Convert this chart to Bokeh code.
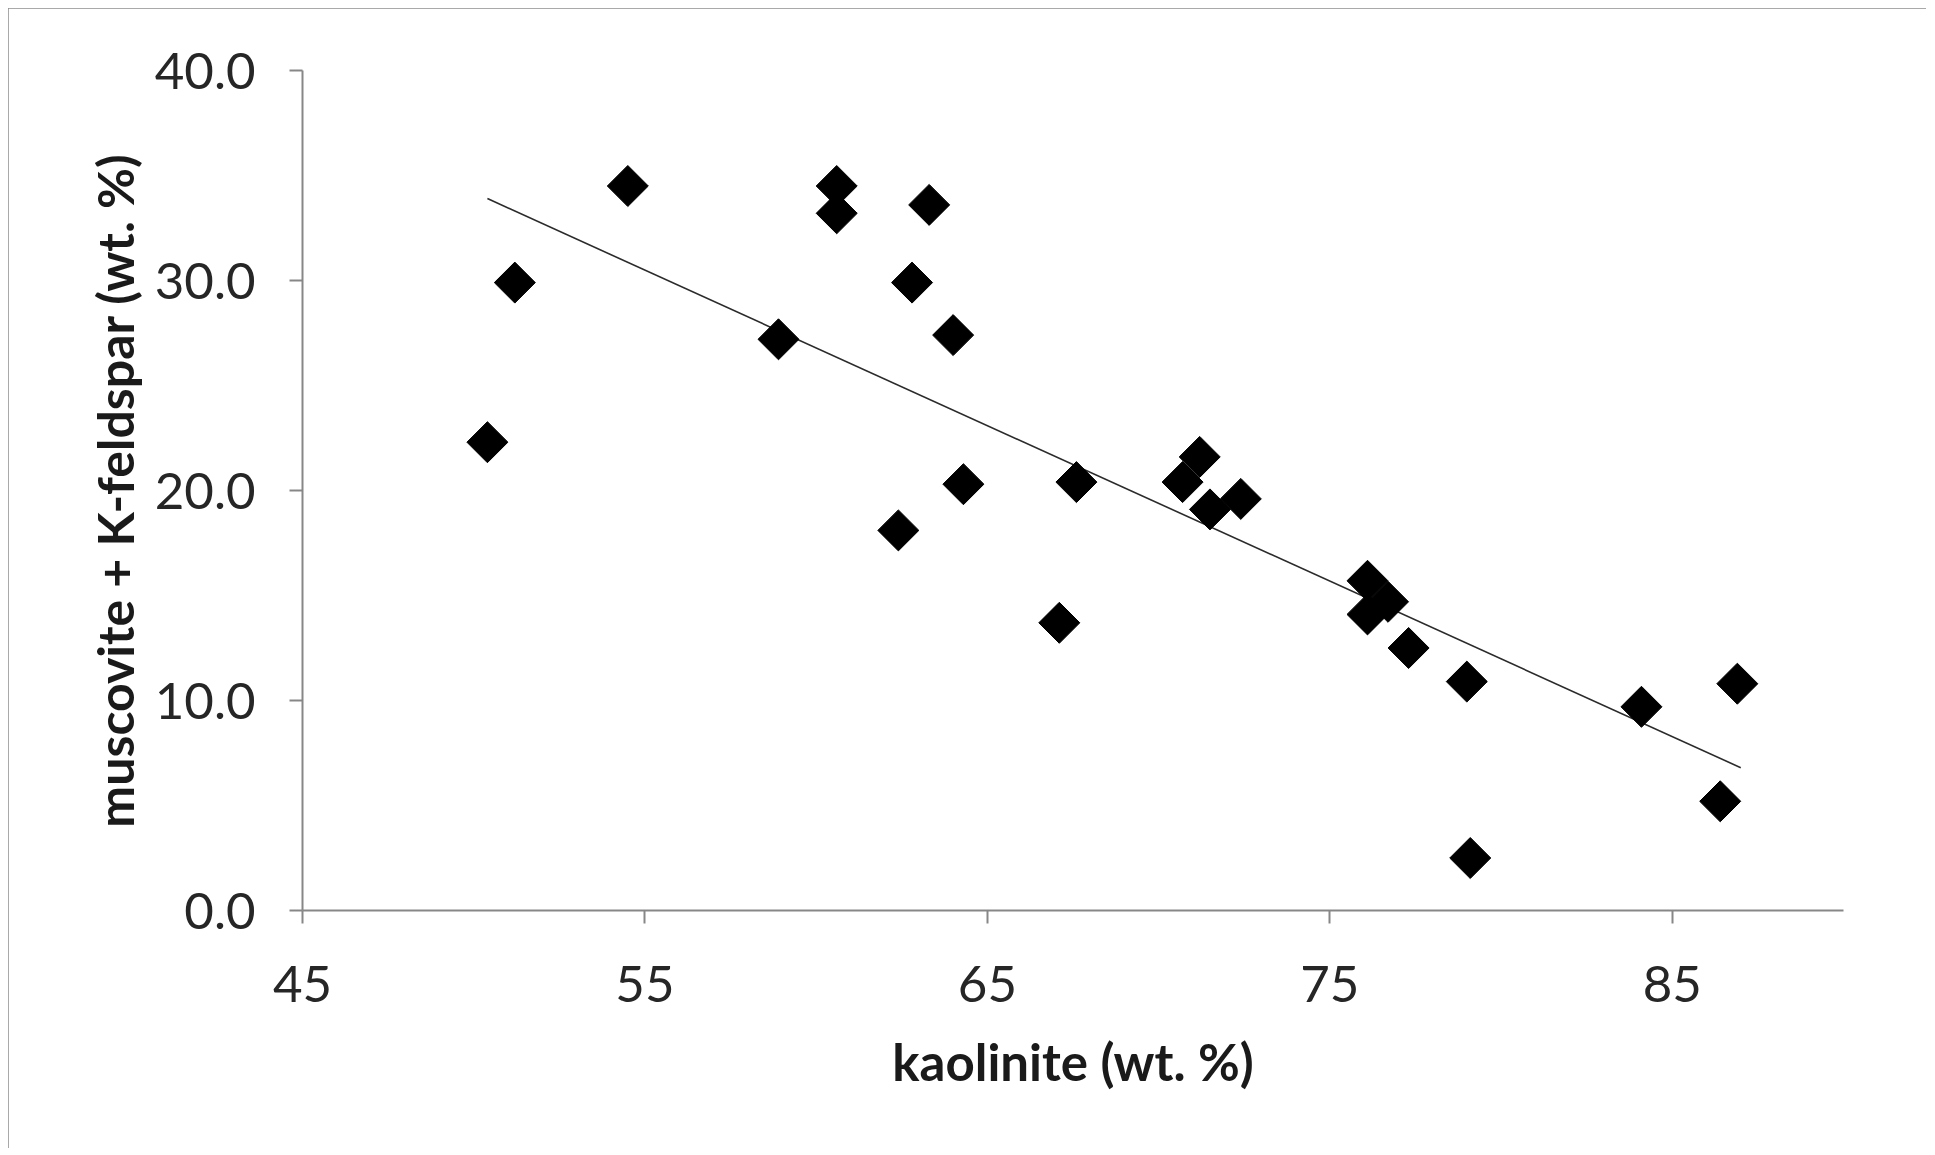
import math
from bokeh.plotting import figure
from bokeh.models import Range1d, FixedTicker, PrintfTickFormatter, ColumnDataSource
from bokeh.embed import file_html
from bokeh.resources import INLINE

# kaolinite (wt. %)
kaolinite = [50.4, 51.2, 54.5, 58.9, 60.6, 60.6, 63.3, 62.8, 64.0, 62.4,
             64.3, 67.1, 67.6, 70.7, 71.2, 71.5, 72.4, 76.1, 76.7, 76.1,
             77.3, 79.0, 79.1, 84.1, 86.9, 86.4]
# muscovite + K-feldspar (wt. %)
musc_kfs = [22.3, 29.9, 34.5, 27.2, 34.5, 33.2, 33.6, 29.9, 27.4, 18.1,
            20.3, 13.7, 20.4, 20.4, 21.6, 19.1, 19.6, 15.7, 14.7, 14.1,
            12.5, 10.9, 2.5, 9.7, 10.8, 5.2]

# linear trend line end points
trend_x = [50.4, 87.0]
trend_y = [33.9, 6.8]

x_ticks = [45, 55, 65, 75, 85]
y_ticks = [0, 10, 20, 30, 40]

FONT = "Lato"
AXIS_GRAY = "#878787"

p = figure(width=1918, height=1140, output_backend="svg", toolbar_location=None,
           x_range=Range1d(45, 90), y_range=Range1d(0, 40),
           min_border_left=294, min_border_right=83,
           min_border_top=62, min_border_bottom=238)
p.outline_line_color = None
p.xgrid.visible = False
p.ygrid.visible = False
p.background_fill_color = "white"
p.border_fill_color = "white"
p.styles = {"margin-left": "8px", "margin-top": "8px",
            "outline": "4px solid #8c8c8c", "outline-offset": "-4px"}

src = ColumnDataSource(dict(x=kaolinite, y=musc_kfs))
p.line(trend_x, trend_y, line_color="#2b2b2b", line_width=1.6)
p.scatter("x", "y", source=src, marker="square", size=29, angle=math.pi / 4,
          fill_color="black", line_color="black")

for ax in (p.xaxis[0], p.yaxis[0]):
    ax.axis_line_color = AXIS_GRAY
    ax.axis_line_width = 2
    ax.major_tick_line_color = AXIS_GRAY
    ax.major_tick_line_width = 2
    ax.major_tick_out = 13
    ax.major_tick_in = 0
    ax.minor_tick_line_color = None
    ax.major_label_text_font = FONT
    ax.major_label_text_font_size = "51px"
    ax.major_label_text_color = "#262626"
    ax.axis_label_text_font = FONT
    ax.axis_label_text_font_style = "bold"
    ax.axis_label_text_color = "#1a1a1a"

p.xaxis.axis_label_text_font_size = "51px"
p.yaxis.axis_label_text_font_size = "50px"
p.xaxis.ticker = FixedTicker(ticks=x_ticks)
p.yaxis.ticker = FixedTicker(ticks=y_ticks)
p.yaxis.formatter = PrintfTickFormatter(format="%.1f")
p.xaxis.axis_label = "kaolinite (wt. %)"
p.yaxis.axis_label = "muscovite + K-feldspar (wt. %)"
p.xaxis.major_label_standoff = 42
p.yaxis.major_label_standoff = 34
p.xaxis.axis_label_standoff = 26
p.yaxis.axis_label_standoff = 7

open("out.html", "w").write(file_html(p, INLINE))
